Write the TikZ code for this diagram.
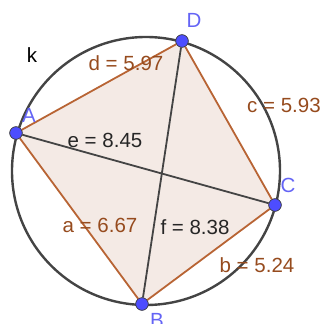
\documentclass[tikz,border=0pt]{standalone}
\usepackage{fontspec}
\setmainfont{Liberation Sans}
\definecolor{edgebrown}{RGB}{184,100,52}
\definecolor{labelbrown}{RGB}{150,75,30}
\definecolor{ptblue}{RGB}{77,77,255}
\definecolor{ptlabel}{RGB}{100,100,245}
\definecolor{circgray}{RGB}{68,68,68}
\definecolor{quadfill}{RGB}{244,234,229}

\begin{document}
\begin{tikzpicture}[x=1pt,y=-1pt,
  side/.style={draw=edgebrown,line width=1.8pt},
  diag/.style={draw=circgray,line width=1.8pt},
  txt/.style={font=\fontsize{20.5}{21}\selectfont,inner sep=0pt},
  pt/.style={circle,fill=ptblue,draw=black!75,line width=0.6pt,inner sep=0pt,minimum size=12.5pt}]
\useasboundingbox (0,0) rectangle (324,324);
\fill[quadfill] (16,133) -- (182,41) -- (275,205) -- (142,304) -- cycle;
\draw[circgray,line width=2.4pt] (146,171) circle [radius=134pt];
\node[pt] (A) at (16,133) {};
\node[pt] (D) at (182,41) {};
\node[pt] (C) at (275,205) {};
\node[pt] (B) at (142,304) {};
\draw[diag] (A) -- (C);
\draw[diag] (D) -- (B);
\draw[side] (A) -- (D);
\draw[side] (D) -- (C);
\draw[side] (C) -- (B);
\draw[side] (B) -- (A);
\foreach \p in {A,B,C,D} {\node[pt] at (\p) {};}
\node[txt] (lk) at (32,55) {k};
\node[txt,text=labelbrown] (ld) at (126,63) {d = 5.97};
\node[txt,text=black!85] (le) at (105,140) {e = 8.45};
\node[txt,text=labelbrown] (lc) at (284,105) {c = 5.93};
\node[txt,text=labelbrown] (la) at (100,225) {a = 6.67};
\node[txt,text=black!85] (lf) at (195,227) {f = 8.38};
\node[txt,text=labelbrown] (lb) at (257,265) {b = 5.24};
\node[txt,text=ptlabel] (nA) at (29,115) {A};
\node[txt,text=ptlabel] (nD) at (194,20) {D};
\node[txt,text=ptlabel] (nC) at (288,185) {C};
\node[txt,text=ptlabel] (nB) at (157,320) {B};
\end{tikzpicture}
\end{document}
